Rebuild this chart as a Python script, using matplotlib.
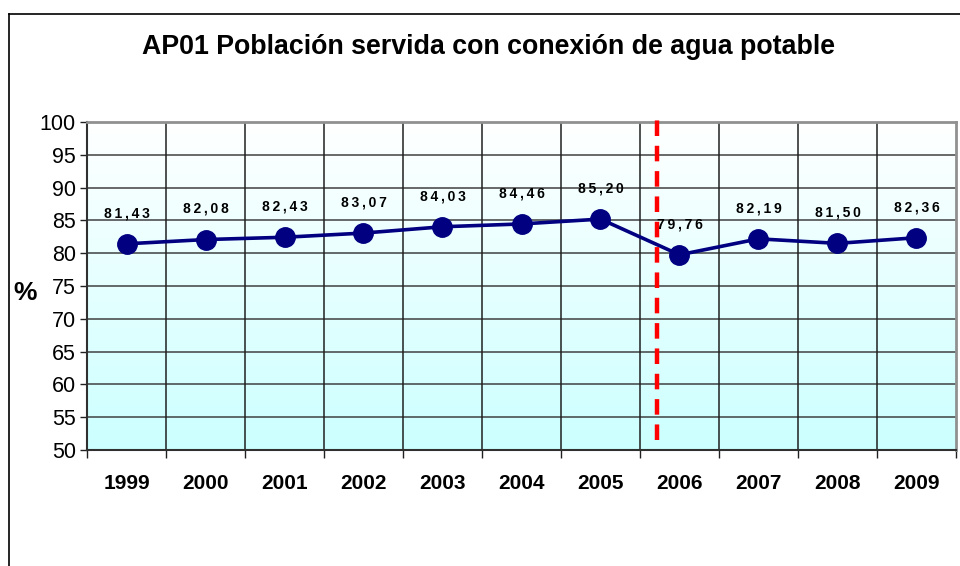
import matplotlib
matplotlib.use("Agg")
import matplotlib.pyplot as plt
import numpy as np
from matplotlib.lines import Line2D

years = ["1999", "2000", "2001", "2002", "2003", "2004", "2005", "2006", "2007", "2008", "2009"]
values = [81.43, 82.08, 82.43, 83.07, 84.03, 84.46, 85.20, 79.76, 82.19, 81.50, 82.36]
labels = ["81,43", "82,08", "82,43", "83,07", "84,03", "84,46", "85,20", "79,76", "82,19", "81,50", "82,36"]
yticks = [50, 55, 60, 65, 70, 75, 80, 85, 90, 95, 100]
break_pos = 6.72

plt.rcParams['font.family'] = ['Liberation Sans', 'DejaVu Sans']

W, H = 960, 566
fig = plt.figure(figsize=(W / 100, H / 100), dpi=100)
fig.patch.set_facecolor('white')

# outer chart border (left and top visible)
fig.add_artist(Line2D([9 / W, 9 / W], [0, 1 - 14 / H], transform=fig.transFigure, color='black', lw=1.2))
fig.add_artist(Line2D([9 / W, 1], [1 - 14 / H, 1 - 14 / H], transform=fig.transFigure, color='black', lw=1.2))

left, right, top, bottom = 87, 956, 122, 450
ax = fig.add_axes([left / W, 1 - bottom / H, (right - left) / W, (bottom - top) / H])

n = len(years)
ax.set_xlim(-0.5, n - 0.5)
ax.set_ylim(50, 100)

# gradient background
grad = np.linspace(0, 1, 256).reshape(-1, 1)
top_col = np.array([1.0, 1.0, 1.0])
bot_col = np.array([0.80, 1.0, 1.0])
img = bot_col * (1 - grad[..., None]) + top_col * grad[..., None]
img = img.reshape(256, 1, 3)
ax.imshow(img, extent=[-0.5, n - 0.5, 50, 100], aspect='auto', origin='lower', zorder=0)

# grid
for y in yticks[1:-1]:
    ax.axhline(y, color='#404040', lw=1.1, zorder=1)
for i in range(1, n):
    ax.axvline(i - 0.5, color='#202020', lw=1.1, zorder=1)

x = np.arange(n)
ax.plot(x, values, color='#000080', lw=2.6, marker='o', markersize=14,
        markerfacecolor='#000080', markeredgecolor='#000080', zorder=3)

ax.axvline(break_pos, color='#ff0000', lw=3.2, ls=(0, (3.5, 2.2)), zorder=4,
           ymin=0.03, ymax=1.02, clip_on=False)

for xi, v, lab in zip(x, values, labels):
    spaced = "\u2009".join(lab)
    ax.annotate(spaced, (xi, v), xytext=(0, 22), textcoords='offset points',
                ha='center', va='center', fontsize=10, fontweight='bold', color='black', zorder=5)

ax.set_xticks(np.arange(-0.5, n, 1.0))
ax.set_xticklabels([])
ax.set_xticks(x, minor=True)
ax.set_xticklabels(years, minor=True, fontsize=15, fontweight='bold')
ax.tick_params(axis='x', which='major', length=6, width=1, color='#202020', direction='out')
ax.tick_params(axis='x', which='minor', length=0, pad=17)

ax.set_yticks(yticks)
ax.set_yticklabels([str(t) for t in yticks], fontsize=15.5)
ax.tick_params(axis='y', length=5, width=1, color='#202020', pad=3)

for s in ['left', 'bottom']:
    ax.spines[s].set_color('#303030')
    ax.spines[s].set_linewidth(1.5)
for s in ['top', 'right']:
    ax.spines[s].set_color('#909090')
    ax.spines[s].set_linewidth(2)

fig.text(488 / W, 1 - 47 / H, "AP01 Población servida con conexión de agua potable",
         ha='center', va='center', fontsize=19.3, fontweight='bold')
fig.text(25 / W, 1 - 293 / H, "%", ha='center', va='center', fontsize=19, fontweight='bold')

fig.savefig("out.png", dpi=100)
